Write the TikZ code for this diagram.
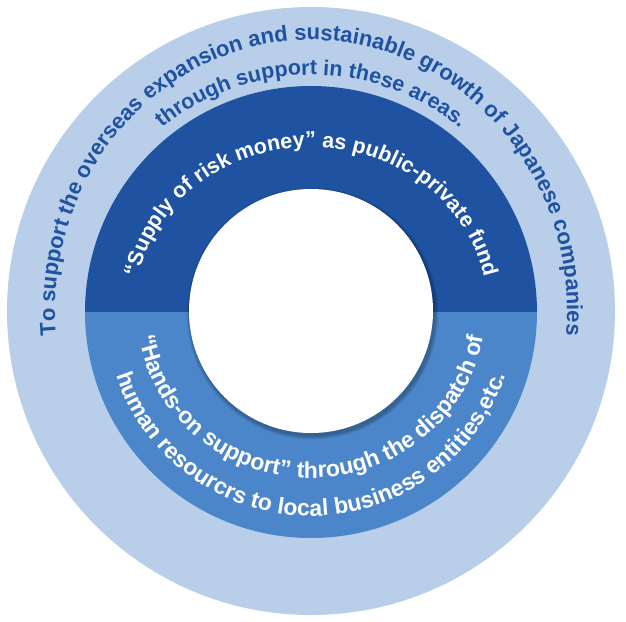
\documentclass[tikz,border=0pt]{standalone}
\usepackage{fontspec}
\setmainfont{Liberation Sans}
\usepackage{xcolor}
\usetikzlibrary{decorations.text}
\definecolor{skyband}{RGB}{184,206,233}
\definecolor{navyband}{RGB}{31,83,162}
\definecolor{midband}{RGB}{75,134,202}
\newcommand{\outerfont}{\bfseries\fontsize{22}{22}\selectfont}
\newcommand{\ringfont}{\bfseries\fontsize{21.5}{21.5}\selectfont}
\newcommand{\lowerfont}{\bfseries\fontsize{23}{23}\selectfont}
\tikzset{
  arctext/.style={decorate, decoration={text along path, text align=center,
      text color=#1}},
  bandshadow/.style={fill=black, opacity=0.06},
}

\begin{document}
\begin{tikzpicture}[x=1pt, y=1pt]
  \useasboundingbox (-311,-310) rectangle (315,311);
  \coordinate (c) at (0,0);

  % ---- Bandes ----
  \fill[skyband] (c) circle[radius=304];
  \fill[navyband] (226,-1) arc[start angle=0, end angle=180, radius=226] -- cycle;
  \fill[midband] (-226,-1) arc[start angle=180, end angle=360, radius=226] -- cycle;

  % ---- Disque central ----
  \foreach \k in {1,...,5}
    \fill[bandshadow] (1.5,-2.5) circle[radius=122+\k*0.8];
  \fill[white] (c) circle[radius=122];

  % ---- Textes exterieurs ----
  \path[arctext=navyband, decoration={text={|\outerfont|To support the overseas expansion and sustainable growth of Japanese companies}}]
    (200:256 and 271) arc[start angle=200, end angle=-20, x radius=256, y radius=271];
  \path[arctext=navyband, decoration={text={|\ringfont|through support in these areas.}}]
    (200:236) arc[start angle=200, end angle=-20, radius=236];

  % ---- Textes de l'anneau ----
  \path[arctext=white, decoration={text={|\ringfont|“Supply of risk money” as public-private fund}}]
    (200:177 and 164) arc[start angle=200, end angle=-20, x radius=177, y radius=164];
  \path[arctext=white, decoration={text={|\lowerfont|“Hands-on support” through the dispatch of}}]
    (150:174 and 167) arc[start angle=150, end angle=390, x radius=174, y radius=167];
  \path[arctext=white, decoration={text={|\lowerfont|human resourcrs to local business entities,etc.}}]
    (150:205) arc[start angle=150, end angle=390, radius=205];
\end{tikzpicture}
\end{document}
